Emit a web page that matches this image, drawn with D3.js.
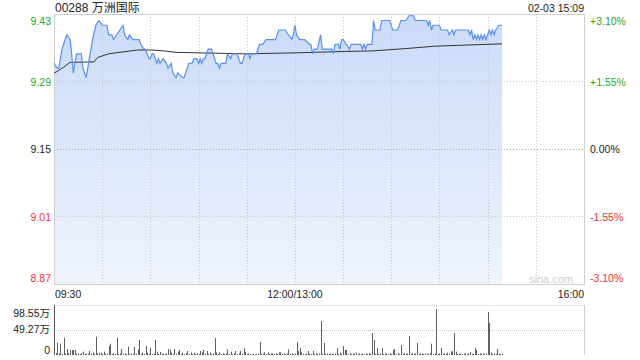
<!DOCTYPE html>
<html>
<head>
<meta charset="utf-8">
<script src="https://cdn.jsdelivr.net/npm/d3@7"></script>
<style>
body { margin: 0; background: #fff; }
svg text { font-family: "Liberation Sans", Arial, "Noto Sans CJK SC", sans-serif; }
</style>
</head>
<body>
<script>
/*Chart data*/
var stockTitle = "00288 万洲国际";
var stampText = "02-03 15:09";
var prevClose = 9.15;
var pctTicks = [3.10, 1.55, 0, -1.55, -3.10];

var priceTimes = ["09:30","09:32","09:33","09:35","09:36","09:38","09:40","09:41","09:42","09:44",
    "09:47","09:48","09:50","09:52","09:54","09:56","09:58","10:00","10:03","10:04",
    "10:06","10:07","10:09","10:11","10:13","10:14","10:16","10:17","10:19","10:21",
    "10:23","10:24","10:26","10:27","10:29","10:30","10:31","10:32","10:34","10:35",
    "10:36","10:38","10:40","10:41","10:43","10:44","10:46","10:47","10:50","10:51",
    "10:52","10:54","10:56","10:57","10:59","11:00","11:01","11:02","11:03","11:04",
    "11:06","11:08","11:09","11:11","11:12","11:13","11:14","11:17","11:18","11:20",
    "11:21","11:24","11:26","11:27","11:29","11:31","11:32","11:33","11:36","11:38",
    "11:40","11:42","11:48","11:50","11:54","11:56","11:58","11:59","12:00","13:01",
    "13:03","13:06","13:09","13:10","13:11","13:12","13:14","13:16","13:17","13:23",
    "13:24","13:25","13:27","13:28","13:29","13:30","13:32","13:34","13:35","13:41",
    "13:42","13:43","13:44","13:45","13:48","13:49","13:50","13:53","13:54","13:59",
    "14:01","14:04","14:06","14:09","14:11","14:14","14:15","14:22","14:23","14:24",
    "14:25","14:26","14:30","14:31","14:35","14:36","14:38","14:39","14:40","14:48",
    "14:49","14:50","14:51","14:52","14:53","14:54","14:55","14:56","14:57","14:58",
    "14:59","15:01","15:02","15:03","15:04","15:05","15:07","15:09"];
var prices = [9.33,9.32,9.32,9.36,9.37,9.39,9.38,9.35,9.31,9.35,
    9.35,9.32,9.30,9.34,9.38,9.41,9.42,9.41,9.41,9.39,
    9.39,9.38,9.39,9.40,9.41,9.39,9.38,9.39,9.38,9.38,
    9.38,9.37,9.36,9.36,9.34,9.34,9.35,9.35,9.33,9.34,
    9.33,9.34,9.33,9.32,9.33,9.31,9.30,9.31,9.30,9.30,
    9.31,9.33,9.33,9.34,9.34,9.33,9.34,9.33,9.34,9.34,
    9.36,9.36,9.35,9.33,9.33,9.32,9.33,9.33,9.35,9.34,
    9.35,9.35,9.33,9.33,9.35,9.35,9.34,9.35,9.35,9.37,
    9.37,9.38,9.38,9.40,9.40,9.39,9.38,9.39,9.41,9.39,
    9.38,9.38,9.37,9.37,9.35,9.36,9.36,9.39,9.36,9.36,
    9.35,9.37,9.37,9.36,9.38,9.38,9.37,9.36,9.37,9.37,
    9.36,9.37,9.36,9.37,9.37,9.42,9.40,9.40,9.42,9.42,
    9.40,9.40,9.42,9.42,9.43,9.43,9.42,9.42,9.41,9.42,
    9.40,9.41,9.41,9.40,9.40,9.39,9.40,9.39,9.40,9.40,
    9.39,9.40,9.38,9.39,9.38,9.39,9.38,9.39,9.38,9.39,
    9.38,9.40,9.39,9.40,9.39,9.40,9.41,9.41];

var avgTimes = ["09:30","09:36","09:40","09:55","09:57","10:04","10:13","10:22","10:30","10:36",
    "10:46","11:00","11:29","12:00","13:31","13:48","14:09","14:27","15:09"];
var avgPrices = [9.309,9.322,9.332,9.333,9.342,9.350,9.354,9.358,9.358,9.357,
    9.353,9.352,9.350,9.352,9.355,9.356,9.361,9.366,9.371];

/*Volume per minute from 09:30, in 万 shares*/
var volumes = [98.55,4,24.3,3,21.7,2,34.2,3,11.8,4,
    9.9,9.9,9.9,9.9,2,3.3,2,3.3,6.6,2,
    3.3,2,7.9,3,5.3,2,36.1,3,4.6,4.6,
    2,6.6,2,3,17.7,22.3,2,3.3,2,34.2,
    2,3,11.8,2,3.3,2,16.4,2,3.3,2,
    15.8,2,11.2,29.6,2,5.3,2,17.7,4.6,2,
    14.5,2,3,29.6,6.6,2,5.9,2,3,2,
    3,11.8,10.5,4.6,2,11.8,2,6.6,9.9,2,
    4.6,2,3,7.9,2,5.3,2,4.6,2,3.3,
    2,7.9,5.3,9.9,2,7.9,2,5.3,2,3,
    33.5,5.3,2,5.3,2,3.3,2,3,11.2,2,
    6.6,2,3,7.9,2,3.3,7.9,2,13.1,5.9,
    2,3.3,2,1.5,2,1.3,2,3,25.6,2,
    3,5.3,2,5.3,2,3,3.3,2,3,2,
    5.3,5.3,2,3.3,2,3,11.2,2,3.3,2,
    3,25.6,7.9,13.8,5.3,2,1.3,3,7.9,2.6,
    2,7.9,2,3.3,2,3,67,2,23.7,2,
    2.6,2,3,2.6,2,3,13.1,2,4.6,2,
    17.7,9.9,9.9,2,3.3,2,3,2,4.6,2,
    3,2,2.6,2,3,2,4,2,43.4,29.6,
    2,13.8,2,3,13.8,2,3,2.6,2,3,
    2,9.9,11.8,2,3.3,2,19.7,2,3.3,2,
    3,37.4,2,3.3,2,3,23.7,2,3,2.6,
    2,3,2.6,2,3,22.3,2,3,90.7,2,
    3,13.8,2,3.3,2,4.6,2,6.6,7.9,43.4,
    6.6,2,3,2.6,2,3,2.6,2,3,5.9,
    2.6,2,13.8,9.9,2,3.3,2,3.3,2,3,
    84.8,63.1,4.6,2,3.3,2,11.8,2.6,2,2.6];
var volTicks = [98.55, 49.27, 0];

var gridTimes = ["10:00","10:30","11:00","11:30","12:00","13:30","14:00","14:30","15:00","15:30"];
var timeLabels = ["09:30", "12:00/13:00", "16:00"];

/*Minutes of trading since 09:30, lunch break removed*/
function toMinute(t) {
    var p = t.split(":"), v = (+p[0]) * 60 + (+p[1]);
    return v <= 720 ? v - 570 : v - 780 + 150;
}

var plotLeft = 54, plotRight = 584, plotTop = 14, plotBottom = 284;
var volTop = 305, volBottom = 355;
var green = "#1faa1f", red = "#f23030";

var svg = d3.select("body").append("svg")
    .attr("width", 640)
    .attr("height", 360);

var x = d3.scaleLinear().domain([0, 330]).range([plotLeft, plotRight]);
var y = d3.scaleLinear()
    .domain([prevClose * (1 - 0.031), prevClose * (1 + 0.031)])
    .range([plotBottom, plotTop]);
var yv = d3.scaleLinear().domain([0, 98.55]).range([volBottom, volTop]);

/*Gradient for the area under the price line*/
var grad = svg.append("defs").append("linearGradient")
    .attr("id", "fillGrad")
    .attr("gradientUnits", "userSpaceOnUse")
    .attr("x1", 0).attr("y1", plotTop).attr("x2", 0).attr("y2", plotBottom);
grad.append("stop").attr("offset", "0%").attr("stop-color", "#cadbf8");
grad.append("stop").attr("offset", "100%").attr("stop-color", "#eff4fd");

var pts = priceTimes.map(function(t, i) { return [toMinute(t), prices[i]] });
var avgPts = avgTimes.map(function(t, i) { return [toMinute(t), avgPrices[i]] });

/*Area fill*/
svg.append("path")
    .datum(pts)
    .attr("fill", "url(#fillGrad)")
    .attr("d", d3.area()
        .x(function(d) { return x(d[0]) })
        .y0(plotBottom)
        .y1(function(d) { return y(d[1]) }));

/*Grid lines*/
svg.selectAll(".vgrid")
    .data(gridTimes)
    .enter().append("line")
    .attr("x1", function(d) { return Math.round(x(toMinute(d))) + 0.5 })
    .attr("x2", function(d) { return Math.round(x(toMinute(d))) + 0.5 })
    .attr("y1", plotTop).attr("y2", plotBottom)
    .attr("stroke", "#c8c8c8")
    .attr("stroke-dasharray", "1,2");

svg.selectAll(".hgrid")
    .data(pctTicks.slice(1, 4))
    .enter().append("line")
    .attr("x1", plotLeft).attr("x2", plotRight)
    .attr("y1", function(d) { return Math.round(y(prevClose * (1 + d / 100))) + 0.5 })
    .attr("y2", function(d) { return Math.round(y(prevClose * (1 + d / 100))) + 0.5 })
    .attr("stroke", function(d) { return d == 0 ? "#aaa" : "#c8c8c8" })
    .attr("stroke-dasharray", "1,2");

svg.append("rect")
    .attr("x", plotLeft + 0.5).attr("y", plotTop + 0.5)
    .attr("width", plotRight - plotLeft).attr("height", plotBottom - plotTop)
    .attr("fill", "none")
    .attr("stroke", "#cfcfcf");

/*Average line and price line*/
svg.append("path")
    .datum(avgPts)
    .attr("fill", "none")
    .attr("stroke", "#333")
    .attr("stroke-width", 1)
    .attr("d", d3.line()
        .x(function(d) { return x(d[0]) })
        .y(function(d) { return y(d[1]) }));

svg.append("path")
    .datum(pts)
    .attr("fill", "none")
    .attr("stroke", "#5b8ef0")
    .attr("stroke-width", 1.2)
    .attr("d", d3.line()
        .x(function(d) { return x(d[0]) })
        .y(function(d) { return y(d[1]) }));

/*Price and percent labels*/
function labelY(d) {
    var v = y(prevClose * (1 + d / 100));
    if (d == pctTicks[0]) return v + 6.5;
    if (d == pctTicks[pctTicks.length - 1]) return v - 6.5;
    return v;
}
function labelColor(d) { return d > 0 ? green : (d < 0 ? red : "#222") }

svg.selectAll(".plabel")
    .data(pctTicks)
    .enter().append("text")
    .attr("x", 51)
    .attr("y", labelY)
    .attr("text-anchor", "end")
    .attr("dominant-baseline", "central")
    .attr("font-size", "10.5px")
    .attr("fill", labelColor)
    .text(function(d) { return (prevClose * (1 + d / 100)).toFixed(2) });

svg.selectAll(".rlabel")
    .data(pctTicks)
    .enter().append("text")
    .attr("x", 590)
    .attr("y", labelY)
    .attr("dominant-baseline", "central")
    .attr("font-size", "10.5px")
    .attr("fill", labelColor)
    .text(function(d) { return (d > 0 ? "+" : "") + d.toFixed(2) + "%" });

/*Title and time stamp*/
svg.append("text")
    .attr("x", 55).attr("y", 7.5)
    .attr("dominant-baseline", "central")
    .attr("font-size", "12px")
    .attr("fill", "#222")
    .text(stockTitle);

svg.append("text")
    .attr("x", plotRight).attr("y", 7.5)
    .attr("text-anchor", "end")
    .attr("dominant-baseline", "central")
    .attr("font-size", "10.5px")
    .attr("fill", "#222")
    .text(stampText);

svg.append("text")
    .attr("x", 573).attr("y", 279)
    .attr("text-anchor", "end")
    .attr("dominant-baseline", "central")
    .attr("font-size", "11px")
    .attr("fill", "#ccc")
    .text("sina.com");

/*Time axis labels*/
svg.selectAll(".tlabel")
    .data(timeLabels)
    .enter().append("text")
    .attr("x", function(d, i) { return i == 0 ? plotLeft + 1 : (i == 1 ? x(150) : plotRight) })
    .attr("y", 293.5)
    .attr("text-anchor", function(d, i) { return ["start", "middle", "end"][i] })
    .attr("dominant-baseline", "central")
    .attr("font-size", "10.5px")
    .attr("fill", "#222")
    .text(function(d) { return d });

/*Volume panel*/
svg.selectAll(".vline")
    .data(volTicks.slice(0, 2))
    .enter().append("line")
    .attr("x1", plotLeft).attr("x2", plotRight)
    .attr("y1", function(d) { return Math.round(yv(d)) + 0.5 })
    .attr("y2", function(d) { return Math.round(yv(d)) + 0.5 })
    .attr("stroke", "#c8c8c8")
    .attr("stroke-dasharray", "1,1");

svg.append("line")
    .attr("x1", plotRight + 0.5).attr("x2", plotRight + 0.5)
    .attr("y1", volTop).attr("y2", volBottom)
    .attr("stroke", "#cfcfcf");

svg.selectAll(".vbar")
    .data(volumes)
    .enter().append("rect")
    .attr("x", function(d, i) { return Math.round(x(i)) })
    .attr("y", function(d) { return yv(d) })
    .attr("width", 1)
    .attr("height", function(d) { return volBottom - yv(d) })
    .attr("fill", "#5f5f5f");

svg.append("line")
    .attr("x1", plotLeft + 0.5).attr("x2", plotLeft + 0.5)
    .attr("y1", volTop).attr("y2", volBottom)
    .attr("stroke", "#555");

svg.selectAll(".vlabel")
    .data(volTicks)
    .enter().append("text")
    .attr("x", 50)
    .attr("y", function(d, i) { return [313, 329, 349.5][i] })
    .attr("text-anchor", "end")
    .attr("dominant-baseline", "central")
    .attr("font-size", "10.5px")
    .attr("fill", "#222")
    .text(function(d) { return d == 0 ? "0" : d.toFixed(2) + "万" });
</script>
</body>
</html>
